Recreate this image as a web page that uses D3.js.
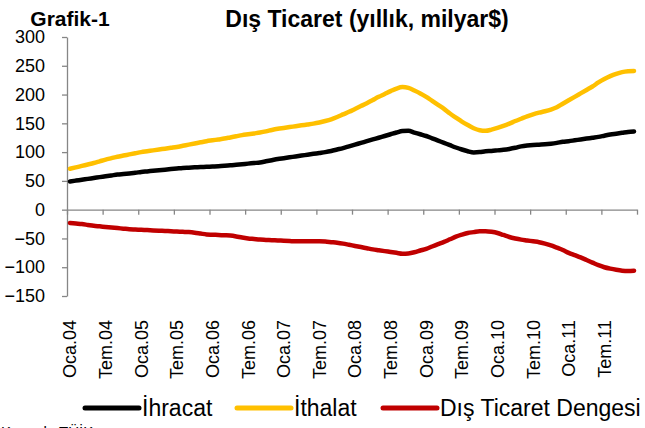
<!DOCTYPE html>
<html>
<head>
<meta charset="utf-8">
<script src="https://cdn.jsdelivr.net/npm/d3@7"></script>
<style>
body { margin: 0; background: #fff; }
text { font-family: "Liberation Sans", Arial, sans-serif; fill: #000; }
</style>
</head>
<body>
<script>
var width = 645;
var height = 428;

// 12 aylik kumulatif, milyar $ ; Oca.04 - Ara.11 (96 ay)
var ihracat = [
	49, 50.5, 52, 53.5, 55, 56.5, 58, 59.5, 61, 62, 63, 64,
	65.5, 66.5, 67.5, 68.5, 69.5, 70.5, 71.5, 72.5, 73, 73.5, 74, 74.5,
	75, 75.5, 76.2, 77, 78, 79, 80, 81, 82, 84, 86, 88,
	89.5, 91, 92.5, 94, 95.5, 97, 98.5, 100, 102, 104.5, 107, 110,
	113, 116, 119, 122, 125, 128, 131, 134, 136.5, 137, 134, 131,
	128, 124, 120, 116, 112, 108, 104.5, 101.5, 99.5, 100, 101.5, 102,
	103, 104, 105.5, 107.5, 110, 111.5, 112.5, 113, 113.5, 114.5, 116, 118,
	119, 120.5, 122, 123.5, 125, 126.5, 128.5, 130.5, 132, 133.5, 135, 136
];
var ithalat = [
	71, 73.5, 76, 78.5, 81, 84, 87, 89.5, 92, 94, 96, 98,
	100, 101.5, 103, 104.5, 106, 107.5, 109, 111, 113, 115, 117, 119,
	120.5, 122, 123.5, 125.5, 127.5, 129.5, 131, 132.5, 134, 136, 138.5, 140.5,
	142, 143.5, 145, 146.5, 148, 149.5, 151.5, 154, 157, 161, 165.5, 170,
	175, 180, 185, 190.5, 196, 201, 206, 210.5, 213, 211.5, 207, 202,
	196, 189, 182, 175, 167, 160, 153, 147, 141.5, 138, 137, 139,
	142, 145.5, 149.5, 154, 158, 162, 165.5, 168.5, 171, 174, 178, 184,
	190, 196, 202, 208, 214, 221, 227, 232, 236, 239, 240.5, 241
];
var denge = [
	-23, -24, -25, -26.5, -28, -29, -30, -31, -32, -33, -34, -34.5,
	-35, -35.5, -36, -36.5, -37, -37.5, -38, -38.5, -39, -40, -41.5, -43,
	-43.5, -44, -44.5, -45, -46.5, -48.5, -50, -51, -52, -52.5, -53, -53.5,
	-54, -54.5, -55, -55, -55, -55, -55, -55.5, -56.5, -57.5, -59, -61,
	-63, -65, -67, -69, -70.5, -72, -73.5, -75, -76.5, -76, -74, -71,
	-68, -64, -60, -56, -51.5, -47, -43.5, -40.5, -39, -37.5, -37.5, -38.5,
	-40.5, -44, -47.5, -50, -52, -53.5, -55, -56.5, -59, -62, -66, -70,
	-75, -79, -83, -87.5, -92, -96.5, -100, -102.5, -104.5, -106, -106.5, -106
];

var tickLabels = ["Oca.04","Tem.04","Oca.05","Tem.05","Oca.06","Tem.06","Oca.07","Tem.07",
	"Oca.08","Tem.08","Oca.09","Tem.09","Oca.10","Tem.10","Oca.11","Tem.11"];
var yTicks = [-150, -100, -50, 0, 50, 100, 150, 200, 250, 300];

var seriler = [
	{ ad: "İhracat", veri: ihracat, renk: "#000000" },
	{ ad: "İthalat", veri: ithalat, renk: "#FFC000" },
	{ ad: "Dış Ticaret Dengesi", veri: denge, renk: "#C00000" }
];

var x = d3.scaleLinear().domain([0, ihracat.length]).range([67, 637]);
var y = d3.scaleLinear().domain([-150, 300]).range([296, 37]);
var gri = "#868686";

var svg = d3.select("body")
	.append("svg")
	.attr("width", width)
	.attr("height", height);

// basliklar
svg.append("text")
	.attr("x", 70).attr("y", 26)
	.attr("text-anchor", "middle")
	.style("font-weight", "bold")
	.style("font-size", "21px")
	.text("Grafik-1");

svg.append("text")
	.attr("x", 367).attr("y", 27)
	.attr("text-anchor", "middle")
	.style("font-weight", "bold")
	.style("font-size", "23px")
	.text("Dış Ticaret (yıllık, milyar$)");

// y ekseni
var yAxis = svg.append("g")
	.attr("transform", "translate(67,0)")
	.call(d3.axisLeft(y).tickValues(yTicks).tickSize(5).tickPadding(17).tickSizeOuter(0));
yAxis.selectAll("line, path").attr("stroke", gri).attr("stroke-width", 1.3);
yAxis.selectAll("text").style("font-size", "18px").attr("fill", "#000");

// x ekseni (sifir cizgisi)
var xTicks = d3.range(0, ihracat.length + 1, 6);
var xAxis = svg.append("g")
	.attr("transform", "translate(0," + y(0) + ")")
	.call(d3.axisBottom(x).tickValues(xTicks).tickSize(5).tickSizeOuter(0).tickFormat(""));
xAxis.selectAll("line, path").attr("stroke", gri).attr("stroke-width", 1.3);

// x etiketleri
svg.append("g")
	.selectAll("text")
	.data(tickLabels)
	.enter()
	.append("text")
	.attr("transform", function(d, i) {
		return "translate(" + x(i * 6 + 0.5) + ",320) rotate(-90)";
	})
	.attr("dy", "0.36em")
	.attr("text-anchor", "end")
	.style("font-size", "18px")
	.text(function(d) { return d; });

// cizgiler
var line = d3.line()
	.x(function(d, i) { return x(i + 0.5); })
	.y(function(d) { return y(d); })
	.curve(d3.curveMonotoneX);

svg.append("g")
	.selectAll("path")
	.data(seriler)
	.enter()
	.append("path")
	.attr("d", function(d) { return line(d.veri); })
	.attr("fill", "none")
	.attr("stroke", function(d) { return d.renk; })
	.attr("stroke-width", 4.5)
	.attr("stroke-linecap", "round")
	.attr("stroke-linejoin", "round");

// lejant
var lejantX = [85, 237, 383];
var lejant = svg.append("g")
	.selectAll("g")
	.data(seriler)
	.enter()
	.append("g")
	.attr("transform", function(d, i) { return "translate(" + lejantX[i] + ",408)"; });

lejant.append("line")
	.attr("x1", 0).attr("x2", 54)
	.attr("stroke", function(d) { return d.renk; })
	.attr("stroke-width", 5)
	.attr("stroke-linecap", "round");

lejant.append("text")
	.attr("x", 57).attr("y", 8)
	.style("font-size", "23px")
	.text(function(d) { return d.ad; });

// kaynak
svg.append("text")
	.attr("x", 1).attr("y", 437)
	.style("font-size", "15px")
	.text("Kaynak: TÜİK");
</script>
</body>
</html>
